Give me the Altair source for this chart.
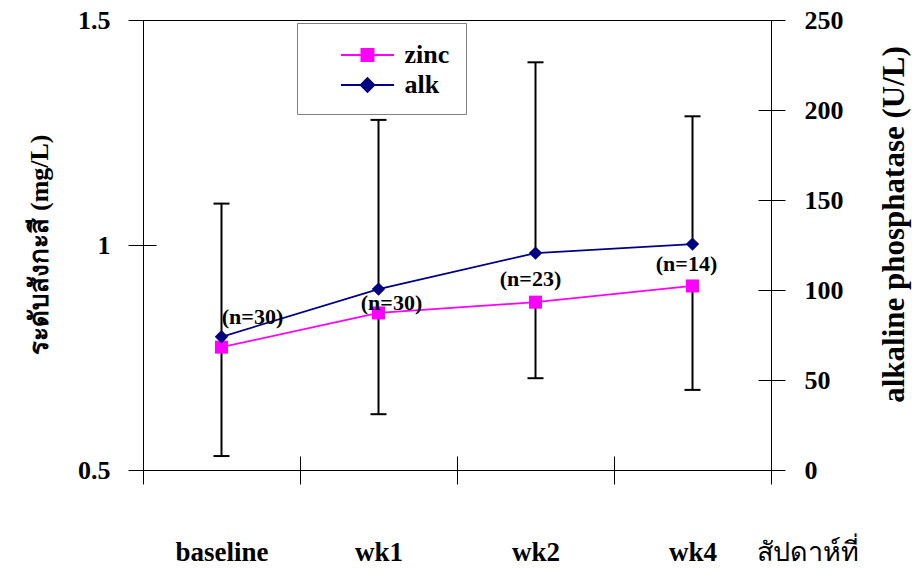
import altair as alt
import pandas as pd

# ---- data -------------------------------------------------------------
weeks = ["baseline", "wk1", "wk2", "wk4"]
zinc_mean = [0.773, 0.849, 0.873, 0.909]      # mg/L
zinc_sd = [0.242, 0.225, 0.169, 0.231]        # drawn as minus error bars
alk_mean = [74.0, 100.5, 120.5, 125.5]        # U/L
alk_sd = [74.0, 94.0, 106.0, 71.0]            # drawn as plus error bars
n_counts = [30, 30, 23, 14]

series_names = ["zinc", "alk"]
series_colors = ["#FF00FF", "#000080"]

zinc_axis_ticks = [0.5, 1.0, 1.5]
alk_axis_ticks = [0, 50, 100, 150, 200, 250]

# ---- styling ----------------------------------------------------------
SERIF = "Liberation Serif"
ZINC_COLOR, ALK_COLOR = series_colors

df = pd.DataFrame({
    "week": weeks,
    "zinc": zinc_mean,
    "zinc_sd": zinc_sd,
    "alk": alk_mean,
    "alk_sd": alk_sd,
    "n": n_counts,
})

label_style = dict(labelFont=SERIF, labelFontWeight="bold", labelColor="black")
title_style = dict(titleFont=SERIF, titleColor="black")

x_enc = alt.X(
    "week:N", sort=weeks,
    scale=alt.Scale(type="band", domain=weeks, paddingInner=0, paddingOuter=0),
    axis=alt.Axis(
        title="สัปดาห์ที่", tickBand="extent", domain=False, grid=False,
        offset=-14, tickSize=28, tickColor="black", tickWidth=1,
        labelAngle=0, labelPadding=55, labelFontSize=27,
        **label_style, **title_style,
        titleFontSize=27, titleFontWeight="normal",
        titleX=613, titleY=104, titleAlign="left", titleBaseline="alphabetic",
        titleAnchor="start",
    ),
)

zinc_scale = alt.Scale(domain=[0.5, 1.5], nice=False, zero=False)
zinc_axis = alt.Axis(
    title="ระดับสังกะสี (mg/L)", orient="left", values=zinc_axis_ticks,
    format=".1~f", grid=False, domain=False, offset=-13, tickSize=28,
    tickColor="black", tickWidth=1, labelPadding=18, labelFontSize=26,
    **label_style, **title_style, titleFontSize=26, titleFontWeight="bold",
    titleAngle=270, titleX=-117, titleY=224, titleAlign="center",
    titleBaseline="middle",
)

alk_scale = alt.Scale(domain=[0, 250], nice=False, zero=True)
alk_axis = alt.Axis(
    title="alkaline phosphatase (U/L)", orient="right", values=alk_axis_ticks,
    format="d", grid=False, domain=False, offset=-13, tickSize=27,
    tickColor="black", tickWidth=1, labelPadding=19, labelFontSize=26,
    **label_style, **title_style, titleFontSize=31, titleFontWeight="bold",
    titleAngle=270, titleX=136, titleY=204, titleAlign="center",
    titleBaseline="middle",
)

base = alt.Chart(df).encode(x=x_enc)

# ---- zinc (left axis) --------------------------------------------------
zinc_err = base.transform_calculate(zinc_lo="datum.zinc - datum.zinc_sd")
zinc_rule = zinc_err.mark_rule(color="black", strokeWidth=2).encode(
    y=alt.Y("zinc_lo:Q", scale=zinc_scale, axis=zinc_axis), y2="zinc:Q")
zinc_cap = zinc_err.mark_tick(color="black", size=16, thickness=2,
                              orient="horizontal", opacity=1).encode(
    y=alt.Y("zinc_lo:Q", scale=zinc_scale, axis=zinc_axis))
zinc_line = base.mark_line(color=ZINC_COLOR, strokeWidth=1.8).encode(
    y=alt.Y("zinc:Q", scale=zinc_scale, axis=zinc_axis))
zinc_pts = base.mark_point(shape="square", filled=True, size=169,
                           color=ZINC_COLOR, opacity=1).encode(
    y=alt.Y("zinc:Q", scale=zinc_scale, axis=zinc_axis))

# legend symbols: a line segment with the series marker on it
legend_paths = [
    "M-1.77,0L1.77,0M-0.4,-0.4L0.4,-0.4L0.4,0.4L-0.4,0.4Z",
    "M-1.77,0L1.77,0M0,-0.45L0.45,0L0,0.45L-0.45,0Z",
]
legend_def = alt.Legend(
    title=None, orient="none", legendX=154, legendY=3, direction="vertical",
    fillColor="white", strokeColor="#808080", padding=16, rowPadding=1,
    symbolSize=900, symbolStrokeWidth=2, symbolOffset=38.5, labelOffset=21,
    labelFont=SERIF, labelFontSize=26, labelFontWeight="bold",
    labelColor="black", labelExpr="datum.label + '   '",
)
legend_df = pd.DataFrame({"series": series_names})
legend_layer = alt.Chart(legend_df).transform_filter("false").mark_point(
    filled=True, opacity=1).encode(
    shape=alt.Shape("series:N", scale=alt.Scale(domain=series_names,
                                                range=legend_paths),
                    legend=legend_def),
    fill=alt.Fill("series:N", scale=alt.Scale(domain=series_names,
                                              range=series_colors),
                  legend=legend_def),
    stroke=alt.Stroke("series:N", scale=alt.Scale(domain=series_names,
                                                  range=series_colors),
                      legend=legend_def),
)

left = alt.layer(zinc_rule, zinc_cap, zinc_line, zinc_pts, legend_layer)

# ---- alkaline phosphatase (right axis) ---------------------------------
alk_err = base.transform_calculate(alk_hi="datum.alk + datum.alk_sd")
alk_rule = alk_err.mark_rule(color="black", strokeWidth=2).encode(
    y=alt.Y("alk:Q", scale=alk_scale, axis=alk_axis), y2="alk_hi:Q")
alk_cap = alk_err.mark_tick(color="black", size=16, thickness=2,
                            orient="horizontal", opacity=1).encode(
    y=alt.Y("alk_hi:Q", scale=alk_scale, axis=alk_axis))
alk_line = base.mark_line(color=ALK_COLOR, strokeWidth=1.8).encode(
    y=alt.Y("alk:Q", scale=alk_scale, axis=alk_axis))
alk_pts = base.mark_point(shape="diamond", filled=True, size=180,
                          color=ALK_COLOR, opacity=1).encode(
    y=alt.Y("alk:Q", scale=alk_scale, axis=alk_axis))

# sample-size notes placed around each alk point
note_offsets = {"baseline": (31, -20), "wk1": (13, 14),
                "wk2": (-5, 26), "wk4": (-6, 20)}
notes = []
for wk, (ox, oy) in note_offsets.items():
    notes.append(
        base.transform_filter(alt.datum.week == wk)
        .transform_calculate(note="'(n=' + datum.n + ')'")
        .mark_text(font=SERIF, fontSize=22, fontWeight="bold", color="black",
                   dx=ox, dy=oy)
        .encode(y=alt.Y("alk:Q", scale=alk_scale, axis=alk_axis),
                text="note:N")
    )

right = alt.layer(alk_rule, alk_cap, alk_line, alk_pts, *notes)

chart = (
    alt.layer(left, right)
    .resolve_scale(y="independent")
    .properties(
        width=628, height=450,
        autosize=alt.AutoSizeParams(type="none"),
        padding={"left": 143, "top": 20, "right": 141, "bottom": 98},
        background="white",
    )
    .configure_view(stroke="black", strokeWidth=1)
)

chart.save("out.html", embed_options={"renderer": "svg", "actions": False})
